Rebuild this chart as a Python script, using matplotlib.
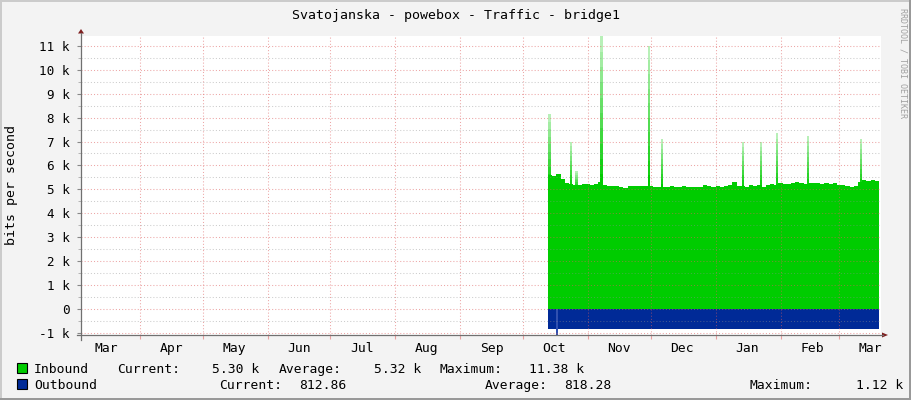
import matplotlib
matplotlib.use('Agg')
import matplotlib.pyplot as plt
import matplotlib.dates as mdates
import matplotlib.ticker as mticker
from matplotlib.patches import Rectangle, Polygon
from matplotlib.lines import Line2D
import pandas as pd
import numpy as np

W, H = 911, 400

title = 'Svatojanska - powebox - Traffic - bridge1'
ylabel = 'bits per second'
watermark = 'RRDTOOL / TOBI OETIKER'

view_start = '2014-03-03 21:00'
view_end = '2015-03-21 00:00'
data_start = '2014-10-13'

# inbound traffic, kbit/s, one value per 2 days
inbound = [5.60, 5.55, 5.65, 5.43, 5.25, 5.22, 5.20, 5.20, 5.22, 5.24,
           5.20, 5.21, 5.33, 5.18, 5.14, 5.15, 5.13, 5.12, 5.08, 5.13,
           5.15, 5.16, 5.14, 5.15, 5.14, 5.10, 5.12, 5.10, 5.12, 5.15,
           5.10, 5.12, 5.13, 5.10, 5.10, 5.10, 5.11, 5.18, 5.16, 5.12,
           5.14, 5.12, 5.13, 5.20, 5.30, 5.15, 5.14, 5.10, 5.18, 5.14,
           5.20, 5.12, 5.20, 5.22, 5.18, 5.25, 5.22, 5.24, 5.26, 5.33,
           5.26, 5.24, 5.25, 5.27, 5.25, 5.24, 5.26, 5.24, 5.25, 5.20,
           5.20, 5.13, 5.12, 5.14, 5.30, 5.38, 5.37, 5.40, 5.36]

# outbound traffic, kbit/s (drawn below zero)
outbound = [-0.81, -0.83, -0.82, -0.81, -0.80, -0.82, -0.81, -0.83, -0.81, -0.80,
            -0.82, -0.81, -0.80, -0.83, -0.81, -0.81, -0.82, -0.80, -0.81, -0.83,
            -0.81, -0.80, -0.82, -0.81, -0.81, -0.83, -0.80, -0.81, -0.82, -0.81,
            -0.80, -0.82, -0.81, -0.83, -0.81, -0.80, -0.81, -0.82, -0.81, -0.83,
            -0.80, -0.81, -0.82, -0.81, -0.80, -0.83, -0.81, -0.81, -0.82, -0.80,
            -0.81, -0.83, -0.81, -0.80, -0.82, -0.81, -0.81, -0.83, -0.80, -0.81,
            -0.82, -0.81, -0.80, -0.82, -0.81, -0.83, -0.81, -0.80, -0.81, -0.82,
            -0.81, -0.83, -0.80, -0.81, -0.82, -0.81, -0.80, -0.82, -0.81]

# short peaks in inbound traffic
in_spike_times = ['2014-10-13 16:00', '2014-10-23 22:00', '2014-10-26 12:00',
                  '2014-11-07 14:00', '2014-11-30 05:00', '2014-12-06 10:00',
                  '2015-01-14 05:00', '2015-01-22 19:00', '2015-01-30 10:00',
                  '2015-02-14 05:00', '2015-03-11 10:00']
in_spike_values = [8.13, 7.00, 5.75, 11.38, 11.00, 7.10, 6.98, 6.98, 7.35, 7.25, 7.10]

out_spike_times = ['2014-10-17 06:00']
out_spike_values = [-1.12]

legend_rows = [
    ('Inbound', '#00cc00', [('Current:', 117), ('5.30 k', 212), ('Average:', 279),
                            ('5.32 k', 374), ('Maximum:', 440), ('11.38 k', 529)]),
    ('Outbound', '#002a97', [('Current:', 219), ('812.86', 299), ('Average:', 485),
                             ('818.28', 564), ('Maximum:', 749), ('1.12 k', 856)]),
]

yticks = list(range(-1, 12))
ytick_labels = ['0' if v == 0 else '%d k' % v for v in yticks]
month_labels = ['Mar', 'Apr', 'May', 'Jun', 'Jul', 'Aug', 'Sep',
                'Oct', 'Nov', 'Dec', 'Jan', 'Feb', 'Mar']

mono = 'DejaVu Sans Mono'
plt.rcParams['font.family'] = mono


def fx(x):
    return x / W


def fy(y):
    return 1 - y / H


fig = plt.figure(figsize=(W / 100, H / 100), dpi=100)
fig.patch.set_facecolor('#f3f3f3')

ax = fig.add_axes([fx(81), fy(335), 800 / W, 299 / H])
ax.set_facecolor('white')
for s in ax.spines.values():
    s.set_visible(False)

edges = pd.date_range(data_start, periods=len(inbound) + 1, freq='2D')
in_vals = np.append(inbound, inbound[-1])
out_vals = np.append(outbound, outbound[-1])
ax.fill_between(edges, 0, in_vals, step='post', color='#00cc00', lw=0, zorder=1)
ax.fill_between(edges, 0, out_vals, step='post', color='#002a97', lw=0, zorder=1)

# peaks, faded towards the top like the rrd anti-aliasing
for t, v in zip(pd.to_datetime(in_spike_times), in_spike_values):
    b = 5.0
    n = 10
    for k in range(n):
        lo = b + (v - b) * k / n
        hi = b + (v - b) * (k + 1) / n
        ax.bar(t, hi - lo, bottom=lo, width=1.15, color='#00cc00',
               alpha=1 - 0.8 * k / n, lw=0, zorder=1.2)
for t, v in zip(pd.to_datetime(out_spike_times), out_spike_values):
    ax.bar(t, v, width=0.8, color='#3050b0', lw=0, zorder=1.2)

ax.set_xlim(pd.Timestamp(view_start), pd.Timestamp(view_end))
ax.set_ylim(-1.07, 11.4)

ax.set_yticks(yticks)
ax.set_yticklabels(ytick_labels)
ax.yaxis.set_minor_locator(mticker.MultipleLocator(0.5))
ax.tick_params(axis='y', which='major', length=3, width=0.8, color='#888888',
               labelsize=9.1, pad=5, direction='out')
ax.tick_params(axis='y', which='minor', length=2, width=0.6, color='#aaaaaa', direction='out')

ax.xaxis.set_major_locator(mdates.MonthLocator())
ax.xaxis.set_major_formatter(mticker.NullFormatter())
ax.xaxis.set_minor_locator(mdates.MonthLocator(bymonthday=16))
ax.xaxis.set_minor_formatter(mticker.FixedFormatter(month_labels))
ax.tick_params(axis='x', which='major', length=3, width=0.8, color='#e8a0a0', direction='out')
ax.tick_params(axis='x', which='minor', length=0, labelsize=9.4, pad=5)

ax.set_axisbelow(False)
dots = (0, (1, 2))
ax.grid(which='major', axis='y', color='#de5e5e', alpha=0.55, lw=0.75, linestyle=dots)
ax.grid(which='minor', axis='y', color='#8f8f8f', alpha=0.45, lw=0.75, linestyle=dots)
ax.grid(which='major', axis='x', color='#de5e5e', alpha=0.55, lw=0.75, linestyle=dots)

# axis lines and arrows
fig.add_artist(Line2D([fx(81), fx(81)], [fy(340), fy(33)], color='#707070', lw=0.9))
fig.add_artist(Line2D([fx(77), fx(883)], [fy(335), fy(335)], color='#707070', lw=0.9))
fig.add_artist(Polygon([(fx(78), fy(33.5)), (fx(84), fy(33.5)), (fx(81), fy(29))],
                       closed=True, color='#7f1f1f', lw=0))
fig.add_artist(Polygon([(fx(882), fy(332.5)), (fx(882), fy(337.5)), (fx(888), fy(335))],
                       closed=True, color='#7f1f1f', lw=0))

fig.text(fx(455.5), fy(15), title, ha='center', va='center', fontsize=9.5)
fig.text(fx(12), fy(185), ylabel, ha='center', va='center', rotation=90, fontsize=9.5)
fig.text(fx(903), fy(63), watermark, ha='center', va='center', rotation=270,
         fontsize=6.0, color='#a0a0a0')

# legend
for row, (name, col, items) in enumerate(legend_rows):
    base = 373 + 16 * row
    fig.add_artist(Rectangle((fx(17), fy(base)), 10 / W, 10 / H, facecolor=col,
                             edgecolor='black', lw=0.8))
    fig.text(fx(34), fy(base), name, va='baseline', ha='left', fontsize=9.4)
    for txt, x in items:
        fig.text(fx(x), fy(base), txt, va='baseline', ha='left', fontsize=9.4)

# 3d frame
fig.add_artist(Rectangle((0, fy(2)), 1, 2 / H, color='#cbcbcb', lw=0))
fig.add_artist(Rectangle((0, 0), 2 / W, 1, color='#cbcbcb', lw=0))
fig.add_artist(Rectangle((0, 0), 1, 2 / H, color='#999999', lw=0))
fig.add_artist(Rectangle((fx(909), 0), 2 / W, 1, color='#999999', lw=0))

fig.savefig('out.png', dpi=100, facecolor=fig.get_facecolor())
